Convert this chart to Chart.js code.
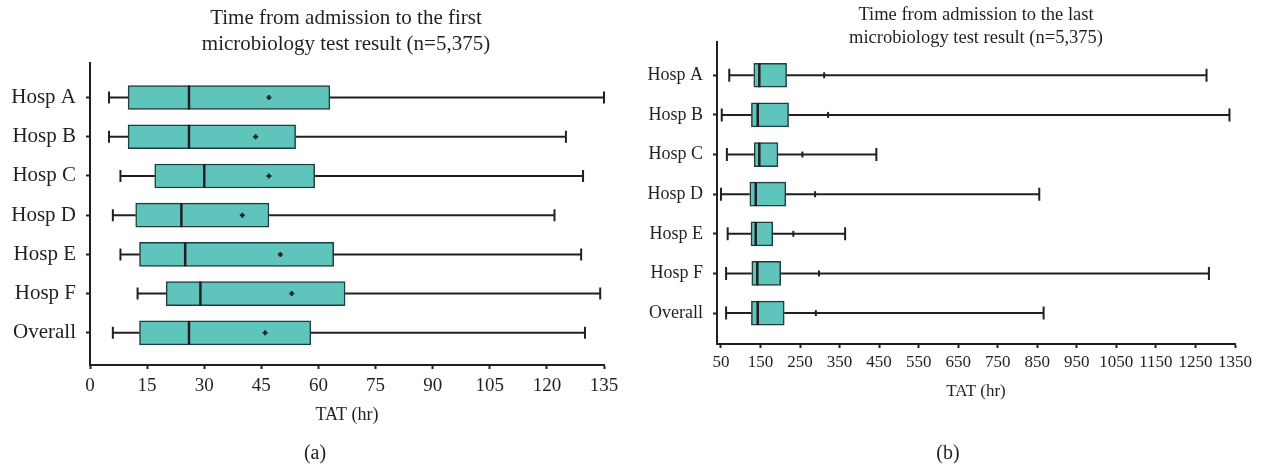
<!DOCTYPE html>
<html>
<head>
<meta charset="utf-8">
<script src="https://cdn.jsdelivr.net/npm/chart.js@4.4.1/dist/chart.umd.min.js"></script>
<style>
  body { margin: 0; background: #fff; }
  #wrap { position: relative; width: 1261px; height: 466px; font-family: "Liberation Serif", "DejaVu Serif", serif; color: #231f20; }
  .box { position: absolute; top: 0; height: 466px; }
  .ttl { position: absolute; text-align: center; white-space: nowrap; }
  .cap { position: absolute; font-size: 20px; transform: translate(-50%, -50%); }
</style>
</head>
<body>
<div id="wrap">
  <div class="box" style="left:0;width:630px"><canvas id="left"></canvas></div>
  <div class="box" style="left:630px;width:631px"><canvas id="right"></canvas></div>
  <div class="ttl" style="left:146px;width:400px;top:5px;font-size:21px;line-height:25.5px">Time from admission to the first<br>microbiology test result (n=5,375)</div>
  <div class="ttl" style="left:776px;width:400px;top:3px;font-size:18.5px;line-height:23px">Time from admission to the last<br>microbiology test result (n=5,375)</div>
  <div class="cap" style="left:315px;top:452px">(a)</div>
  <div class="cap" style="left:948px;top:452px">(b)</div>
</div>
<script>
const labels = ['Hosp A', 'Hosp B', 'Hosp C', 'Hosp D', 'Hosp E', 'Hosp F', 'Overall'];

// (a) first microbiology result, hours
const firstMin    = [5, 5, 8, 6, 8, 12.5, 6];
const firstQ1     = [10, 10, 17, 12, 13, 20, 13];
const firstMedian = [26, 26, 30, 24, 25, 29, 26];
const firstQ3     = [63, 54, 59, 47, 64, 67, 58];
const firstMax    = [135, 125, 129.5, 122, 129, 134, 130];
const firstMean   = [47, 43.5, 47, 40, 50, 53, 46];
const firstTicks  = [0, 15, 30, 45, 60, 75, 90, 105, 120, 135];

// (b) last microbiology result, hours
const lastMin    = [71, 52, 65, 50, 67, 63, 63];
const lastQ1     = [133, 127, 134, 123, 126, 128, 127];
const lastMedian = [147, 143, 147, 138, 138, 142, 143];
const lastQ3     = [216, 221, 194, 214, 181, 201, 210];
const lastMax    = [1278, 1336, 443, 855, 364, 1284, 866];
const lastMean   = [311, 321, 256, 288, 233, 298, 290];
const lastTicks  = [50, 150, 250, 350, 450, 550, 650, 750, 850, 950, 1050, 1150, 1250, 1350];

const ink = '#231f20';

// whiskers, median and mean marker drawn through the chart scales
const boxExtras = {
  id: 'boxExtras',
  afterDatasetsDraw(chart, args, o) {
    const { ctx, scales: { x, y } } = chart;
    ctx.save();
    ctx.strokeStyle = ink;
    ctx.lineWidth = 2;
    labels.forEach((_, i) => {
      const cy = y.getPixelForValue(i);
      const lo = x.getPixelForValue(o.min[i]), q1 = x.getPixelForValue(o.q1[i]);
      const q3 = x.getPixelForValue(o.q3[i]), hi = x.getPixelForValue(o.max[i]);
      ctx.beginPath();
      ctx.moveTo(lo, cy); ctx.lineTo(q1, cy);
      ctx.moveTo(q3, cy); ctx.lineTo(hi, cy);
      ctx.moveTo(lo, cy - o.cap); ctx.lineTo(lo, cy + o.cap);
      ctx.moveTo(hi, cy - o.cap); ctx.lineTo(hi, cy + o.cap);
      ctx.stroke();
      const m = x.getPixelForValue(o.median[i]);
      ctx.lineWidth = 2.5;
      ctx.beginPath();
      ctx.moveTo(m, cy - 12); ctx.lineTo(m, cy + 12);
      ctx.stroke();
      ctx.lineWidth = 2;
      const mx = x.getPixelForValue(o.mean[i]);
      ctx.beginPath();
      if (o.plus) {
        ctx.moveTo(mx - 2.5, cy); ctx.lineTo(mx + 2.5, cy);
        ctx.moveTo(mx, cy - 2.5); ctx.lineTo(mx, cy + 2.5);
      } else {
        ctx.moveTo(mx, cy - 3); ctx.lineTo(mx, cy + 3);
      }
      ctx.stroke();
    });
    ctx.restore();
  }
};

function makeChart(id, s) {
  return new Chart(document.getElementById(id), {
    type: 'bar',
    data: {
      datasets: [{
        data: labels.map((_, i) => ({ x: [s.q1[i], s.q3[i]], y: i })),
        backgroundColor: '#5fc4bc',
        borderColor: '#1f3d3d',
        borderWidth: 1.5,
        borderSkipped: false,
        barThickness: 24
      }]
    },
    options: {
      indexAxis: 'y',
      responsive: true,
      maintainAspectRatio: false,
      animation: false,
      layout: { padding: { top: s.top, right: s.right, bottom: s.bottom, left: 0 } },
      plugins: {
        legend: { display: false },
        tooltip: { enabled: false },
        boxExtras: { min: s.min, q1: s.q1, median: s.median, q3: s.q3, max: s.max, mean: s.mean, cap: s.cap, plus: s.plus }
      },
      scales: {
        x: {
          type: 'linear',
          min: s.xMin, max: s.xMax,
          afterBuildTicks: sc => { sc.ticks = s.ticks.map(v => ({ value: v })); },
          afterFit: sc => { sc.height = s.xHeight; },
          grid: { display: true, drawOnChartArea: false, tickLength: 4, tickWidth: 2, tickColor: ink },
          border: { color: ink, width: 2 },
          ticks: { color: ink, padding: s.tickPad, maxRotation: 0, autoSkip: false, callback: v => String(v), font: { family: 'Liberation Serif', size: s.tickSize } },
          title: { display: true, text: 'TAT (hr)', color: ink, padding: { top: 0, bottom: s.titlePad }, font: { family: 'Liberation Serif', size: s.titleSize } }
        },
        y: {
          type: 'linear',
          reverse: true,
          offset: false,
          min: s.yMin, max: s.yMax,
          afterBuildTicks: sc => { sc.ticks = labels.map((_, i) => ({ value: i })); },
          afterFit: sc => { sc.width = s.yWidth; },
          grid: { display: true, offset: false, drawOnChartArea: false, tickLength: 4, tickWidth: 2, tickColor: ink },
          border: { color: ink, width: 2 },
          ticks: { color: ink, padding: 10, autoSkip: false, callback: v => labels[v], font: { family: 'Liberation Serif', size: s.labelSize } }
        }
      }
    },
    plugins: [boxExtras]
  });
}

makeChart('left', {
  min: firstMin, q1: firstQ1, median: firstMedian, q3: firstQ3, max: firstMax, mean: firstMean,
  ticks: firstTicks, xMin: 0, xMax: 135, yMin: -0.88, yMax: 6.82,
  top: 63, right: 26, bottom: 36, xHeight: 65, yWidth: 90,
  tickSize: 19, tickPad: 6, titleSize: 18, labelSize: 21, titlePad: 4, cap: 6, plus: true
});

makeChart('right', {
  min: lastMin, q1: lastQ1, median: lastMedian, q3: lastQ3, max: lastMax, mean: lastMean,
  ticks: lastTicks, xMin: 40, xMax: 1350, yMin: -0.84, yMax: 6.78,
  top: 42, right: 26, bottom: 62, xHeight: 60, yWidth: 87,
  tickSize: 17, tickPad: 4, titleSize: 17, labelSize: 18, titlePad: 2, cap: 6.5, plus: false
});
</script>
</body>
</html>
